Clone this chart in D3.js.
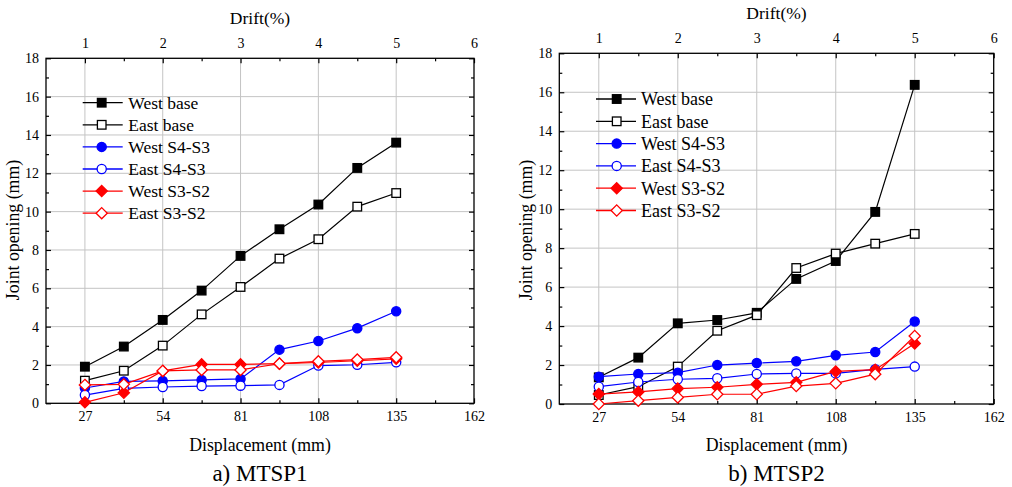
<!DOCTYPE html>
<html><head><meta charset="utf-8">
<script src="https://cdn.jsdelivr.net/npm/d3@7"></script>
</head>
<body style="margin:0;background:#fff">
<svg id="chart" width="1012" height="487" style="display:block"></svg>
<script>
// ---- data ----
const displacement = [27, 40.5, 54, 67.5, 81, 94.5, 108, 121.5, 135];
const xTicks = [27, 54, 81, 108, 135, 162];
const xMinorTicks = [40.5, 67.5, 94.5, 121.5, 148.5];
const driftTicks = [1, 2, 3, 4, 5, 6];
const driftMinorTicks = [1.5, 2.5, 3.5, 4.5, 5.5];
const yTicks = [0, 2, 4, 6, 8, 10, 12, 14, 16, 18];
const yMinorTicks = [1, 3, 5, 7, 9, 11, 13, 15, 17];
const seriesNames = ["West base", "East base", "West S4-S3", "East S4-S3", "West S3-S2", "East S3-S2"];

const mtsp1WestBase = [1.91, 2.96, 4.35, 5.88, 7.69, 9.08, 10.37, 12.28, 13.6];
const mtsp1EastBase = [1.18, 1.70, 3.01, 4.64, 6.07, 7.55, 8.56, 10.26, 10.97];
const mtsp1WestS4S3 = [0.80, 1.14, 1.17, 1.22, 1.27, 2.80, 3.25, 3.92, 4.80];
const mtsp1EastS4S3 = [0.43, 0.78, 0.85, 0.90, 0.92, 0.96, 1.97, 2.01, 2.14];
const mtsp1WestS3S2 = [0.05, 0.55, 1.69, 2.03, 2.03, 2.07, 2.13, 2.22, 2.32];
const mtsp1EastS3S2 = [0.96, 0.99, 1.69, 1.74, 1.74, 2.07, 2.19, 2.28, 2.40];

const mtsp2WestBase = [1.37, 2.38, 4.14, 4.31, 4.68, 6.42, 7.34, 9.86, 16.38];
const mtsp2EastBase = [0.46, 0.89, 1.92, 3.76, 4.56, 6.98, 7.72, 8.23, 8.73];
const mtsp2WestS4S3 = [1.40, 1.54, 1.61, 2.00, 2.10, 2.19, 2.50, 2.67, 4.23];
const mtsp2EastS4S3 = [0.89, 1.13, 1.27, 1.32, 1.54, 1.57, 1.57, 1.78, 1.92];
const mtsp2WestS3S2 = [0.51, 0.62, 0.79, 0.86, 1.01, 1.11, 1.67, 1.76, 3.11];
const mtsp2EastS3S2 = [0.00, 0.17, 0.34, 0.50, 0.50, 0.92, 1.06, 1.53, 3.49];

// ---- styles ----
const FONT = "Liberation Serif";
const styles = [
  {color:"#000000", shape:"square", filled:true},
  {color:"#000000", shape:"square", filled:false},
  {color:"#0000ff", shape:"circle", filled:true},
  {color:"#0000ff", shape:"circle", filled:false},
  {color:"#ff0000", shape:"diamond", filled:true},
  {color:"#ff0000", shape:"diamond", filled:false}
];

const panels = [
  {left:46, right:474, top:58.3, bottom:403.3, title:"a) MTSP1",
   series:[mtsp1WestBase, mtsp1EastBase, mtsp1WestS4S3, mtsp1EastS4S3, mtsp1WestS3S2, mtsp1EastS3S2],
   yTitleX:13, driftTitleY:18, legend:{x0:82.7, x1:122.7, xm:101.7, xt:128.3, y0:102.7, dy:22.1, fs:17.5}},
  {left:559.3, right:993.7, top:53.3, bottom:404, title:"b) MTSP2",
   series:[mtsp2WestBase, mtsp2EastBase, mtsp2WestS4S3, mtsp2EastS4S3, mtsp2WestS3S2, mtsp2EastS3S2],
   yTitleX:526, driftTitleY:13, legend:{x0:596, x1:636, xm:616.7, xt:641, y0:99, dy:22.3, fs:18}}
];

const svg = d3.select("#chart");

function txt(g, s, size){
  return g.append("text").style("font-family", FONT).style("font-size", size + "px").attr("fill", "#000").text(s);
}

function marker(g, shape, x, y, color, filled){
  let el;
  if(shape==="square"){
    el = g.append("rect").attr("x", x-4.3).attr("y", y-4.3).attr("width", 8.6).attr("height", 8.6);
  } else if(shape==="circle"){
    el = g.append("circle").attr("cx", x).attr("cy", y).attr("r", 4.6);
  } else {
    const r = 5.6;
    el = g.append("path").attr("d", `M${x},${y-r}L${x+r},${y}L${x},${y+r}L${x-r},${y}Z`);
  }
  el.attr("fill", filled ? color : "#fff").attr("stroke", color).attr("stroke-width", 1.3);
}

panels.forEach(p => {
  const x = d3.scaleLinear().domain([13.5, 162]).range([p.left, p.right]);
  const drift = d3.scaleLinear().domain([0.5, 6]).range([p.left, p.right]);
  const y = d3.scaleLinear().domain([0, 18]).range([p.bottom, p.top]);
  const g = svg.append("g");

  // grid
  g.append("g").selectAll("line").data(xTicks.filter(v => v < 162)).join("line")
    .attr("x1", d => x(d)).attr("x2", d => x(d)).attr("y1", p.top).attr("y2", p.bottom)
    .attr("stroke", "#c4c4c4").attr("stroke-width", 1);
  g.append("g").selectAll("line").data(yTicks.filter(v => v > 0 && v < 18)).join("line")
    .attr("y1", d => y(d)).attr("y2", d => y(d)).attr("x1", p.left).attr("x2", p.right)
    .attr("stroke", "#c4c4c4").attr("stroke-width", 1);

  const styleAxis = (sel) => {
    sel.attr("font-family", FONT).attr("font-size", 14);
    sel.select(".domain").remove();
    sel.selectAll("line").attr("stroke", "#000").attr("stroke-width", 1.2);
    sel.selectAll("text").attr("fill", "#000").style("font-size", "14px").style("font-family", FONT);
  };

  // bottom
  g.append("g").attr("transform", `translate(0,${p.bottom})`)
    .call(d3.axisBottom(x).tickValues(xTicks).tickSize(-5).tickPadding(8).tickFormat(d3.format("d"))).call(styleAxis);
  g.append("g").attr("transform", `translate(0,${p.bottom})`)
    .call(d3.axisBottom(x).tickValues(xMinorTicks).tickSize(-3).tickFormat("")).call(styleAxis);
  // top
  g.append("g").attr("transform", `translate(0,${p.top})`)
    .call(d3.axisTop(drift).tickValues(driftTicks).tickSize(-5).tickPadding(10).tickFormat(d3.format("d"))).call(styleAxis);
  g.append("g").attr("transform", `translate(0,${p.top})`)
    .call(d3.axisTop(drift).tickValues(driftMinorTicks).tickSize(-3).tickFormat("")).call(styleAxis);
  // left
  g.append("g").attr("transform", `translate(${p.left},0)`)
    .call(d3.axisLeft(y).tickValues(yTicks).tickSize(-5).tickPadding(7)).call(styleAxis);
  g.append("g").attr("transform", `translate(${p.left},0)`)
    .call(d3.axisLeft(y).tickValues(yMinorTicks).tickSize(-3).tickFormat("")).call(styleAxis);
  // right
  g.append("g").attr("transform", `translate(${p.right},0)`)
    .call(d3.axisRight(y).tickValues(yTicks).tickSize(-5).tickFormat("")).call(styleAxis);
  g.append("g").attr("transform", `translate(${p.right},0)`)
    .call(d3.axisRight(y).tickValues(yMinorTicks).tickSize(-3).tickFormat("")).call(styleAxis);

  // frame
  g.append("rect").attr("x", p.left).attr("y", p.top).attr("width", p.right-p.left).attr("height", p.bottom-p.top)
    .attr("fill", "none").attr("stroke", "#000").attr("stroke-width", 1.3);

  // series
  const line = d3.line().x((d,i) => x(displacement[i])).y(d => y(d));
  p.series.forEach((vals, si) => {
    const st = styles[si];
    const sg = g.append("g");
    sg.append("path").attr("d", line(vals)).attr("fill", "none").attr("stroke", st.color).attr("stroke-width", 1.2);
    vals.forEach((v, i) => marker(sg, st.shape, x(displacement[i]), y(v), st.color, st.filled));
  });

  // legend
  const L = p.legend;
  seriesNames.forEach((name, i) => {
    const st = styles[i];
    const yy = L.y0 + i*L.dy;
    g.append("line").attr("x1", L.x0).attr("x2", L.x1).attr("y1", yy).attr("y2", yy)
      .attr("stroke", st.color).attr("stroke-width", 1.3);
    marker(g, st.shape, L.xm, yy, st.color, st.filled);
    txt(g, name, L.fs).attr("x", L.xt).attr("y", yy).attr("dy", "0.35em");
  });

  // titles
  const cx = (p.left + p.right)/2;
  txt(g, "Drift(%)", 17.5).attr("x", cx).attr("y", p.driftTitleY).attr("dy", "0.35em").attr("text-anchor", "middle");
  txt(g, "Displacement (mm)", 17.8).attr("x", cx).attr("y", 445).attr("dy", "0.35em").attr("text-anchor", "middle");
  txt(g, "Joint opening (mm)", 17.8).attr("transform", `translate(${p.yTitleX},230) rotate(-90)`).attr("dy", "0.35em")
    .attr("text-anchor", "middle");
  txt(g, p.title, 23).attr("x", cx).attr("y", 473).attr("dy", "0.35em").attr("text-anchor", "middle");
});
</script>
</body></html>
